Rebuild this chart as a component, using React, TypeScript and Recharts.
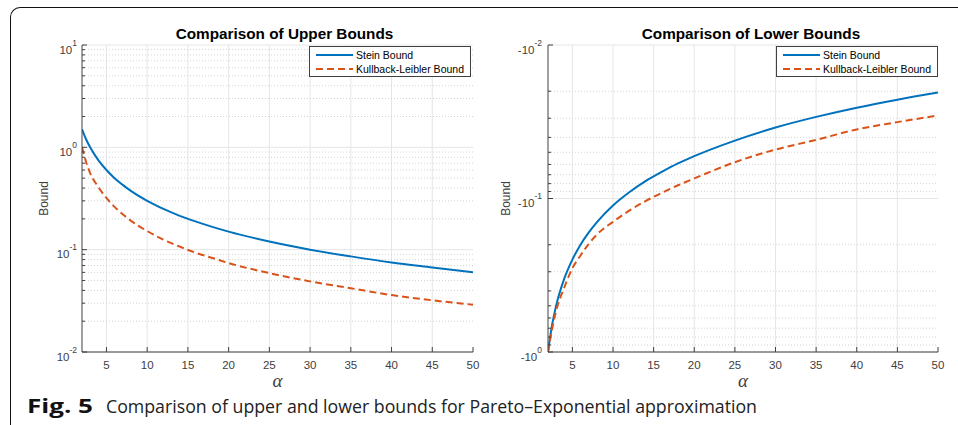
import { LineChart, Line, XAxis, YAxis, CartesianGrid, Legend } from "recharts";

// alpha grid
const alpha = [2, 2.5, 3, 4, 5, 6, 7, 8, 10, 12, 14, 16, 18, 20, 25, 30, 35, 40, 45, 50];

// upper bounds (left panel)
const steinUpper = [1.5, 1.2, 1.0, 0.75, 0.6, 0.5, 0.43, 0.375, 0.3, 0.25, 0.214, 0.188, 0.167, 0.15, 0.12, 0.1, 0.086, 0.075, 0.067, 0.06];
const klUpper = [1.0, 0.72, 0.56, 0.41, 0.32, 0.262, 0.222, 0.192, 0.152, 0.125, 0.107, 0.093, 0.083, 0.074, 0.059, 0.049, 0.042, 0.036, 0.032, 0.029];

// lower bounds (right panel, negative values)
const steinLower = [-1.0, -0.667, -0.5, -0.333, -0.25, -0.2, -0.167, -0.143, -0.111, -0.091, -0.077, -0.067, -0.059, -0.053, -0.042, -0.0345, -0.0294, -0.0256, -0.0227, -0.0204];
const klLower = [-1.0, -0.71, -0.54, -0.38, -0.285, -0.235, -0.198, -0.172, -0.142, -0.12, -0.104, -0.092, -0.082, -0.074, -0.058, -0.048, -0.0415, -0.0355, -0.0318, -0.0288];

const seriesNames = ["Stein Bound", "Kullback-Leibler Bound"];

const xTicks = [5, 10, 15, 20, 25, 30, 35, 40, 45, 50];
const xGrid = [5, 10, 15, 20, 25, 30, 35, 40, 45];

const upperMajors = [0.01, 0.1, 1, 10];
const upperMinors = [0.02, 0.03, 0.04, 0.05, 0.06, 0.07, 0.08, 0.09, 0.2, 0.3, 0.4, 0.5, 0.6, 0.7, 0.8, 0.9, 2, 3, 4, 5, 6, 7, 8, 9];
const lowerMajors = [0.01, 0.1, 1];
const lowerMinors = [0.02, 0.03, 0.04, 0.05, 0.06, 0.07, 0.08, 0.09, 0.2, 0.3, 0.4, 0.5, 0.6, 0.7, 0.8, 0.9];
const expOf: Record<string, string> = { "0.01": "-2", "0.1": "-1", "1": "0", "10": "1" };

const upperData = alpha.map((a, i) => ({ alpha: a, stein: steinUpper[i], kl: klUpper[i] }));
const lowerData = alpha.map((a, i) => ({ alpha: a, stein: Math.abs(steinLower[i]), kl: Math.abs(klLower[i]) }));

const BLUE = "#0072BD";
const ORANGE = "#D95319";
const AXIS = "#404040";
const TEXT = "#404040";
const FONT = "'Liberation Sans', Arial, Helvetica, sans-serif";

function yTick(side: "left" | "right", majors: number[], prefix: string, gap: number, showLabel: boolean) {
  return (p: any) => {
    const v = p.payload.value;
    const major = majors.includes(v);
    const len = major ? 5 : 3;
    const dir = side === "left" ? 1 : -1;
    return (
      <g>
        <line x1={p.x} x2={p.x + dir * len} y1={p.y} y2={p.y} stroke={AXIS} strokeWidth={1} />
        {showLabel && major && (
          <text x={p.x - gap} y={p.y + 8.5} textAnchor="end" fontSize={11.5} fill={TEXT} fontFamily={FONT}>
            {prefix + "10"}
            <tspan dy={-8} fontSize={8.5}>{expOf[String(v)]}</tspan>
          </text>
        )}
      </g>
    );
  };
}

function xTick(side: "bottom" | "top", showLabel: boolean) {
  return (p: any) => {
    const dir = side === "bottom" ? -1 : 1;
    return (
      <g>
        <line x1={p.x} x2={p.x} y1={p.y} y2={p.y + dir * 5} stroke={AXIS} strokeWidth={1} />
        {showLabel && (
          <text x={p.x} y={p.y + 17} textAnchor="middle" fontSize={11.5} fill={TEXT} fontFamily={FONT}>
            {p.payload.value}
          </text>
        )}
      </g>
    );
  };
}

function LegendBox({ payload }: any) {
  const items = [...(payload ?? [])].sort(
    (a: any, b: any) => seriesNames.indexOf(a.value) - seriesNames.indexOf(b.value)
  );
  return (
    <div style={{ width: 162, height: 31, boxSizing: "border-box", border: `1px solid ${AXIS}`, background: "#fff" }}>
      <svg width={160} height={29} style={{ display: "block" }}>
        {items.map((e: any, i: number) => {
          const y = 8 + i * 14;
          return (
            <g key={e.value}>
              <line x1={6} x2={43} y1={y} y2={y} stroke={e.color} strokeWidth={2}
                strokeDasharray={e.payload?.strokeDasharray} />
              <text x={46} y={y + 4} fontSize={10.5} fill="#000" fontFamily={FONT}>{e.value}</text>
            </g>
          );
        })}
      </svg>
    </div>
  );
}

function Panel(props: {
  data: any[];
  width: number;
  margin: any;
  domain: [number, number];
  majors: number[];
  minors: number[];
  reversed: boolean;
  prefix: string;
  gap: number;
  legendLeft: number;
}) {
  const { data, width, margin, domain, majors, minors, reversed, prefix, gap, legendLeft } = props;
  const yTicks = [...majors, ...minors].sort((a, b) => a - b);
  return (
    <LineChart width={width} height={400} data={data} margin={margin}>
      <CartesianGrid horizontal={false} verticalValues={xGrid} stroke="#e6e6e6" />
      <CartesianGrid vertical={false} horizontalValues={majors} stroke="#e6e6e6" />
      <CartesianGrid vertical={false} horizontalValues={minors} stroke="#d4d4d4" strokeDasharray="1 2" />
      <XAxis dataKey="alpha" type="number" domain={[2, 50]} allowDataOverflow ticks={xTicks} interval={0}
        height={30} tickSize={0} tickMargin={0} tickLine={false} stroke={AXIS} tick={xTick("bottom", true)} />
      <XAxis xAxisId="t" orientation="top" dataKey="alpha" type="number" domain={[2, 50]} allowDataOverflow
        ticks={xTicks} interval={0} height={0} tickSize={0} tickMargin={0} tickLine={false} stroke={AXIS}
        tick={xTick("top", false)} />
      <YAxis scale="log" type="number" domain={domain} allowDataOverflow reversed={reversed} ticks={yTicks}
        interval={0} width={50} tickSize={0} tickMargin={0} tickLine={false} stroke={AXIS}
        tick={yTick("left", majors, prefix, gap, true)} />
      <YAxis yAxisId="r" orientation="right" scale="log" type="number" domain={domain} allowDataOverflow
        reversed={reversed} ticks={yTicks} interval={0} width={0} tickSize={0} tickMargin={0} tickLine={false}
        stroke={AXIS} tick={yTick("right", majors, prefix, gap, false)} />
      <Legend layout="vertical" align="center" verticalAlign="middle" content={<LegendBox />}
        wrapperStyle={{ left: legendLeft, top: 46, width: 162, height: 31 }} />
      <Line type="monotone" dataKey="stein" name={seriesNames[0]} stroke={BLUE} strokeWidth={2} dot={false}
        legendType="line" isAnimationActive={false} />
      <Line type="monotone" dataKey="kl" name={seriesNames[1]} stroke={ORANGE} strokeWidth={2}
        strokeDasharray="7 4" dot={false} legendType="line" isAnimationActive={false} />
    </LineChart>
  );
}

export default function App() {
  return (
    <div style={{ position: "fixed", left: 0, top: 0, width: 958, height: 425, background: "#fff", overflow: "hidden" }}>
      <div style={{
        position: "absolute", left: 10, top: 7, width: 1200, height: 800,
        borderTop: "1.5px solid #111", borderLeft: "1.5px solid #111", borderTopLeftRadius: 10,
      }} />
      <div style={{ position: "absolute", left: 0, top: 0 }}>
        <Panel data={upperData} width={480} margin={{ top: 45, right: 7, bottom: 18, left: 32 }}
          domain={[0.01, 10]} majors={upperMajors} minors={upperMinors} reversed={false} prefix="" gap={5}
          legendLeft={309} />
      </div>
      <div style={{ position: "absolute", left: 480, top: 0 }}>
        <Panel data={lowerData} width={478} margin={{ top: 45, right: 20, bottom: 18, left: 18 }}
          domain={[0.01, 1]} majors={lowerMajors} minors={lowerMinors} reversed={true} prefix="-" gap={6}
          legendLeft={296} />
      </div>
      <svg width={958} height={425} style={{ position: "absolute", left: 0, top: 0, pointerEvents: "none" }}>
        <text x={284.5} y={38.5} textAnchor="middle" fontSize={15.3} fontWeight="bold" fontFamily={FONT} fill="#000">
          Comparison of Upper Bounds
        </text>
        <text x={751} y={38.5} textAnchor="middle" fontSize={15.3} fontWeight="bold" fontFamily={FONT} fill="#000">
          Comparison of Lower Bounds
        </text>
        <text transform="translate(48,198.5) rotate(-90)" textAnchor="middle" fontSize={12} fontFamily={FONT} fill={TEXT}>
          Bound
        </text>
        <text transform="translate(510,198.5) rotate(-90)" textAnchor="middle" fontSize={12} fontFamily={FONT} fill={TEXT}>
          Bound
        </text>
        <text x={277.5} y={387} textAnchor="middle" fontSize={19} fontStyle="italic" fontFamily="'Liberation Serif', serif" fill={TEXT}>
          α
        </text>
        <text x={743} y={387} textAnchor="middle" fontSize={19} fontStyle="italic" fontFamily="'Liberation Serif', serif" fill={TEXT}>
          α
        </text>
        <text x={27} y={413} fontSize={20} fontWeight="bold" fontFamily="'Open Sans', 'Noto Sans', sans-serif" fill="#111"
          textLength={66} lengthAdjust="spacingAndGlyphs">
          Fig. 5
        </text>
        <text x={106} y={413} fontSize={18} fontFamily="'Open Sans', 'Noto Sans', sans-serif" fill="#222"
          textLength={651} lengthAdjust="spacingAndGlyphs">
          Comparison of upper and lower bounds for Pareto–Exponential approximation
        </text>
      </svg>
    </div>
  );
}
